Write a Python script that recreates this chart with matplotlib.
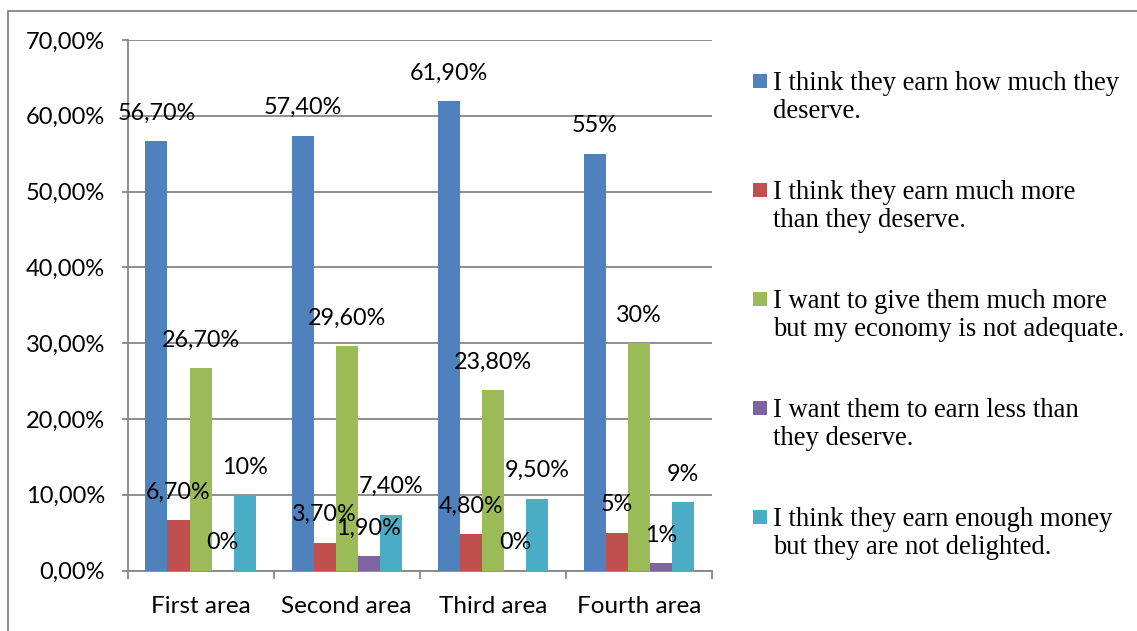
import matplotlib
matplotlib.use("Agg")
import matplotlib.pyplot as plt
from matplotlib.patches import Rectangle
from matplotlib.ticker import FuncFormatter, FixedLocator
import numpy as np

categories = ["First area", "Second area", "Third area", "Fourth area"]
series_names = [
    "I think they earn how much they\ndeserve.",
    "I think they earn much more\nthan they deserve.",
    "I want to give them much more\nbut my economy is not adequate.",
    "I want them to earn less than\nthey deserve.",
    "I think they earn enough money\nbut they are not delighted.",
]
earn_as_deserved = [56.7, 57.4, 61.9, 55.0]
earn_more_than_deserved = [6.7, 3.7, 4.8, 5.0]
want_to_give_more = [26.7, 29.6, 23.8, 30.0]
want_them_earn_less = [0.0, 1.9, 0.0, 1.0]
enough_not_delighted = [10.0, 7.4, 9.5, 9.0]

label_earn_as_deserved = ["56,70%", "57,40%", "61,90%", "55%"]
label_earn_more = ["6,70%", "3,70%", "4,80%", "5%"]
label_give_more = ["26,70%", "29,60%", "23,80%", "30%"]
label_earn_less = ["0%", "1,90%", "0%", "1%"]
label_enough = ["10%", "7,40%", "9,50%", "9%"]

series_values = [earn_as_deserved, earn_more_than_deserved, want_to_give_more,
                 want_them_earn_less, enough_not_delighted]
series_labels = [label_earn_as_deserved, label_earn_more, label_give_more,
                 label_earn_less, label_enough]
colors = ["#4F81BD", "#C0504D", "#9BBB59", "#8064A2", "#4BACC6"]

SANS = ["Lato", "DejaVu Sans"]

W, H = 1137, 631
fig = plt.figure(figsize=(W / 100, H / 100), dpi=100)
ax = fig.add_axes([127.5 / W, (H - 570.6) / H, (712 - 127.5) / W, (570.6 - 40) / H])

gray = "#868686"
x = np.arange(len(categories))
bw = 0.151
n = len(series_values)
for j, (vals, labs, c) in enumerate(zip(series_values, series_labels, colors)):
    xs = x + (j - (n - 1) / 2) * bw
    ax.bar(xs, vals, width=bw, color=c, zorder=3)
    for xi, v, lab in zip(xs, vals, labs):
        ax.annotate(lab, (xi, v), xytext=(0, 20), textcoords="offset points",
                    ha="center", va="center", fontsize=16.8, color="black",
                    family=SANS, zorder=5)

ax.set_xlim(-0.5, len(categories) - 0.5)
ax.set_ylim(0, 70)
ax.set_yticks(np.arange(0, 71, 10))
ax.yaxis.set_major_formatter(FuncFormatter(lambda v, p: f"{v:.2f}%".replace(".", ",")))
ax.yaxis.grid(True, color=gray, lw=1.3, zorder=0)
ax.set_axisbelow(True)

ax.set_xticks(x)
ax.set_xticklabels(categories)
ax.xaxis.set_minor_locator(FixedLocator(np.arange(-0.5, len(categories), 1.0)))
ax.tick_params(axis="x", which="major", length=0, pad=18, labelsize=17.5)
ax.tick_params(axis="x", which="minor", length=5.5, width=1.3, color=gray, direction="out")
ax.tick_params(axis="y", length=4.3, width=1.3, color=gray, pad=12, labelsize=17)
for lab in ax.get_xticklabels() + ax.get_yticklabels():
    lab.set_family(SANS)

for s in ["top", "right"]:
    ax.spines[s].set_visible(False)
for s in ["left", "bottom"]:
    ax.spines[s].set_color(gray)
    ax.spines[s].set_linewidth(1.3)

# legend drawn manually (marker aligned with first line, Excel style)
first_center = 81.0
step = 109.0
for j, (name, c) in enumerate(zip(series_names, colors)):
    cy = first_center + j * step
    fig.patches.append(Rectangle((753 / W, 1 - (cy + 7) / H), 14 / W, 14 / H,
                                 transform=fig.transFigure, facecolor=c,
                                 edgecolor="none"))
    for k, line in enumerate(name.split("\n")):
        base = cy + 9 + k * 28
        fig.text(773 / W, 1 - base / H, line, ha="left", va="baseline",
                 fontsize=19.2, family="Liberation Serif", color="black")

# outer frame
fig.patches.append(Rectangle((8 / W, -0.1), 1.2, 1 - 10.5 / H + 0.1,
                             transform=fig.transFigure, facecolor="none",
                             edgecolor=gray, lw=1.3, clip_on=False))

fig.savefig("out.png", dpi=100)
